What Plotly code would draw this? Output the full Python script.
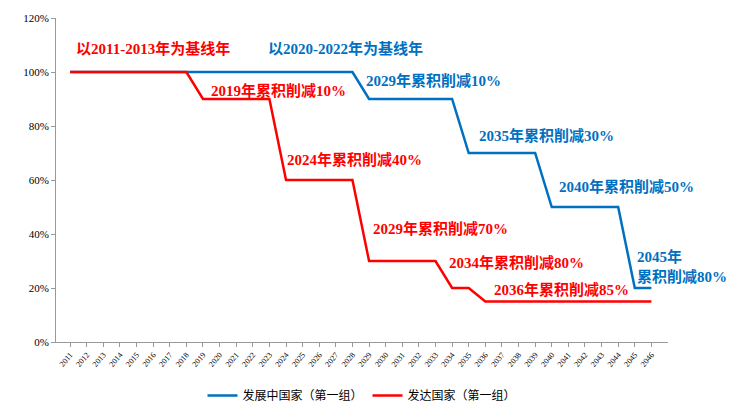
import plotly.graph_objects as go

years = [str(y) for y in range(2011, 2047)]
developing = [100]*18 + [90]*6 + [70]*5 + [50]*5 + [20]*2
developed = [100]*8 + [90]*5 + [60]*5 + [30]*5 + [20]*2 + [15]*11

BLUE = "#0070C0"
RED = "#FF0000"
xs = list(range(len(years)))

fig = go.Figure()
fig.add_trace(go.Scatter(x=xs, y=developing, mode="lines", name="发展中国家（第一组）",
                         line=dict(color=BLUE, width=2.5)))
fig.add_trace(go.Scatter(x=xs, y=developed, mode="lines", name="发达国家（第一组）",
                         line=dict(color=RED, width=2.5)))

FONT = "Liberation Serif, Noto Sans CJK SC"
notes = [
    ("以2011-2013年为基线年", 5.0, 108.6, RED),
    ("以2020-2022年为基线年", 16.6, 108.6, BLUE),
    ("2019年累积削减10%", 12.55, 93, RED),
    ("2029年累积削减10%", 21.9, 96.8, BLUE),
    ("2024年累积削减40%", 17.1, 67.7, RED),
    ("2035年累积削减30%", 28.7, 76.3, BLUE),
    ("2040年累积削减50%", 33.5, 57.7, BLUE),
    ("2029年累积削减70%", 22.3, 41.9, RED),
    ("2034年累积削减80%", 26.9, 29.4, RED),
    ("2036年累积削减85%", 29.6, 19.4, RED),
]
for t, x, y, c in notes:
    fig.add_annotation(x=x, y=y, text="<b>"+t+"</b>", showarrow=False,
                       font=dict(family=FONT, size=15, color=c))
fig.add_annotation(x=34.0, y=28, text="<b>2045年<br>累积削减80%</b>", showarrow=False,
                   xanchor="left", align="left",
                   font=dict(family=FONT, size=15, color=BLUE))

fig.update_layout(
    width=738, height=412, plot_bgcolor="white", paper_bgcolor="white",
    margin=dict(l=48, r=78, t=10, b=67),
    font=dict(family=FONT, size=11, color="#000"),
    showlegend=True,
    legend=dict(orientation="h", x=0.5, xanchor="center", y=-0.12, yanchor="top",
                font=dict(size=12), traceorder="normal"),
)
fig.update_xaxes(range=[-0.85, 36.0], tickvals=xs, ticktext=years, tickangle=-50,
                 tickfont=dict(size=8), showgrid=False, showline=True, automargin=False,
                 linecolor="#999", ticks="outside", ticklen=4, tickcolor="#999")
fig.update_yaxes(range=[0, 120], tickvals=list(range(0, 121, 20)),
                 ticktext=[f"{v}%" for v in range(0, 121, 20)], automargin=False,
                 showgrid=False, showline=True, linecolor="#999",
                 ticks="outside", ticklen=4, tickcolor="#999", tickfont=dict(size=11))
fig.write_html("out.html")
